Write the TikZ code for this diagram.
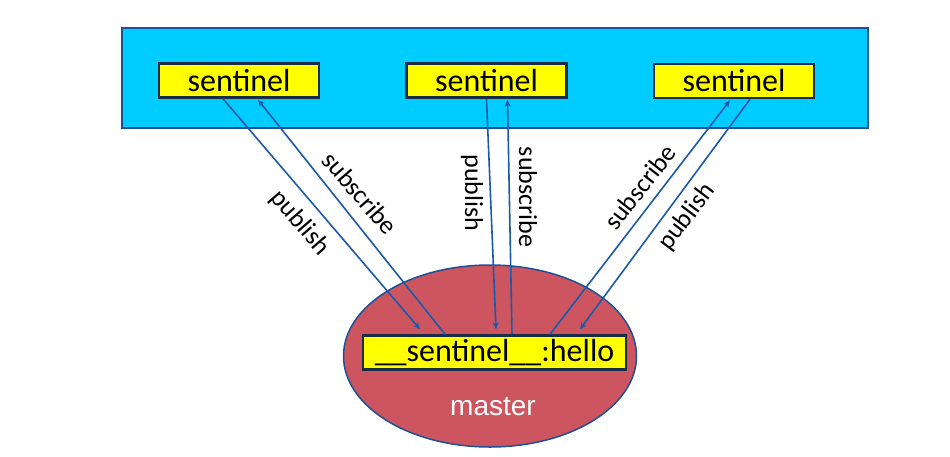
\documentclass[tikz,border=0pt]{standalone}
\usepackage{fontspec}
\setmainfont{Carlito}
\newfontfamily\masterfont{Liberation Sans}
\usetikzlibrary{arrows.meta, shapes.geometric}
\definecolor{skyfill}{RGB}{0,204,255}
\definecolor{frameblue}{RGB}{30,80,150}
\definecolor{boxyellow}{RGB}{255,255,0}
\definecolor{boxedge}{RGB}{25,45,70}
\definecolor{masterred}{RGB}{205,85,95}
\definecolor{linkblue}{RGB}{25,90,170}

\begin{document}
\begin{tikzpicture}[x=1pt, y=-1pt,
    sbox/.style={draw=boxedge, line width=2.5pt, fill=boxyellow, minimum width=160pt,
      minimum height=34pt, inner sep=0pt, font=\fontsize{32}{36}\selectfont},
    link/.style={linkblue, line width=1.6pt, -{Stealth[length=7pt, width=6pt]}},
    lbl/.style={font=\fontsize{26}{30}\selectfont}]
  \useasboundingbox (0,0) rectangle (950,456);
  % sentinels
  \node[draw=frameblue, line width=1.5pt, fill=skyfill, minimum width=746pt, minimum height=100pt] (cluster) at (495,78) {};
  \node[sbox] (s1) at (239,80.5) {sentinel};
  \node[sbox] (s2) at (486.5,80.5) {sentinel};
  \node[sbox] (s3) at (734,81) {sentinel};
  % master
  \node[ellipse, draw=frameblue, line width=1.5pt, fill=masterred, minimum width=293pt, minimum height=182pt] (master) at (490,356) {};
  \node[sbox, minimum width=263pt] (hello) at (494.5,352.5) {\_\_sentinel\_\_:hello};
  \node[text=white, font=\masterfont\fontsize{28}{32}\selectfont] (mlabel) at (493,407) {master};
  % channels
  \draw[link] ([xshift=-16pt]s1.south) -- ([xshift=-74.5pt, yshift=5pt]hello.north);
  \draw[link] ([xshift=-49.5pt]hello.north) -- ([xshift=19pt, yshift=-1pt]s1.south);
  \draw[link] ([xshift=0pt]s2.south) -- ([xshift=1.5pt, yshift=5pt]hello.north);
  \draw[link] ([xshift=17.5pt]hello.north) -- ([xshift=21pt, yshift=-1pt]s2.south);
  \draw[link] ([xshift=55.5pt]hello.north) -- ([xshift=-4pt, yshift=-1pt]s3.south);
  \draw[link] ([xshift=16pt]s3.south) -- ([xshift=85.5pt, yshift=5pt]hello.north);
  \node[lbl, rotate=-49] (p1) at (300,223) {publish};
  \node[lbl, rotate=-49] (b1) at (360,193) {subscribe};
  \node[lbl, rotate=-90] (p2) at (472,193) {publish};
  \node[lbl, rotate=-90] (b2) at (528,197) {subscribe};
  \node[lbl, rotate=52] (b3) at (640,187) {subscribe};
  \node[lbl, rotate=53] (p3) at (687,217) {publish};
\end{tikzpicture}
\end{document}
